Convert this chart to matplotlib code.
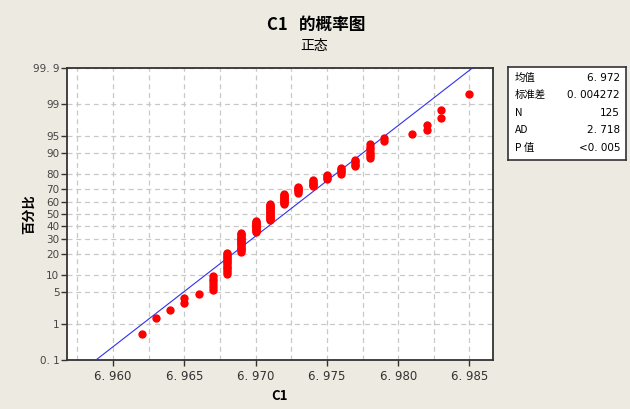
from statistics import NormalDist
import numpy as np
import matplotlib
matplotlib.use('Agg')
import matplotlib.pyplot as plt

plt.rcParams['font.family'] = ['Noto Sans CJK SC', 'DejaVu Sans']

# values of C1 and how many times each one occurs
c1_values = [6.962, 6.963, 6.964, 6.965, 6.966, 6.967, 6.968, 6.969, 6.970,
             6.971, 6.972, 6.973, 6.974, 6.975, 6.976, 6.977, 6.978, 6.979,
             6.981, 6.982, 6.983, 6.985]
c1_counts = [1, 1, 1, 2, 1, 6, 14, 17, 13, 17, 11, 6, 6, 4, 5, 5, 7, 2,
             1, 2, 2, 1]

stat_names = ['均值', '标准差', 'N', 'AD', 'P 值']
stat_values = ['6. 972', '0. 004272', '125', '2. 718', '<0. 005']
mean = 6.972
sd = 0.004272

pct_ticks = [0.1, 1, 5, 10, 20, 30, 40, 50, 60, 70, 80, 90, 95, 99, 99.9]
pct_labels = ['0. 1', '1', '5', '10', '20', '30', '40', '50', '60', '70',
              '80', '90', '95', '99', '99. 9']
x_ticks = [6.960, 6.965, 6.970, 6.975, 6.980, 6.985]
x_labels = ['6. 960', '6. 965', '6. 970', '6. 975', '6. 980', '6. 985']

nd = NormalDist()

# median ranks, like minitab does
x = np.repeat(c1_values, c1_counts)
n = len(x)
ranks = np.arange(1, n + 1)
z = np.array([nd.inv_cdf((r - 0.3) / (n + 0.4)) for r in ranks])

bg = '#EDEAE1'
fig = plt.figure(figsize=(6.3, 4.09), dpi=100, facecolor=bg)
ax = fig.add_axes([67 / 630, 1 - 360 / 409, 426 / 630, 292 / 409])

zlo = nd.inv_cdf(0.001)
zhi = nd.inv_cdf(0.999)

# fitted line
zl = np.array([zlo, zhi])
ax.plot(mean + zl * sd, zl, color='#3030F0', lw=0.8, zorder=3)

ax.plot(x, z, 'o', color='#FF0000', ms=6, mec='none', zorder=4)

ax.set_xlim(6.95677, 6.98665)
ax.set_ylim(zlo, zhi)

ax.set_yticks([nd.inv_cdf(p / 100) for p in pct_ticks])
ax.set_yticklabels(pct_labels, family='DejaVu Sans')
ax.set_xticks(x_ticks)
ax.set_xticklabels(x_labels, family='DejaVu Sans')

# grid lines every 0.0025 on x, at each tick on y
for gx in np.arange(6.9575, 6.98651, 0.0025):
    ax.axvline(gx, color='#C8C8C8', lw=0.9, ls=(0, (4, 3)), zorder=1)
for gy in ax.get_yticks():
    ax.axhline(gy, color='#C8C8C8', lw=0.9, ls=(0, (4, 3)), zorder=1)

ax.tick_params(axis='x', direction='out', length=4, width=1,
               labelsize=8.5, labelcolor='#333333', color='#333333', pad=3)
ax.tick_params(axis='y', direction='out', length=4, width=1,
               labelsize=7.5, labelcolor='#444444', color='#333333', pad=1.5)
for s in ax.spines.values():
    s.set_color('#333333')
    s.set_linewidth(1.3)

ax.set_xlabel('C1', fontsize=9.5, fontweight='bold')
ax.xaxis.set_label_coords(0.5, -29 / 292)
ax.set_ylabel('百分比', fontsize=9.5, fontweight='bold')
ax.yaxis.set_label_coords(-31 / 426, 0.5)

fig.text(316 / 630, 1 - 25 / 409, 'C1   的概率图', ha='center', va='center',
         fontsize=12, fontweight='bold')
fig.text(314 / 630, 1 - 46 / 409, '正态', ha='center', va='center', fontsize=10)

# stats box
box = fig.add_axes([508 / 630, 1 - 160 / 409, 118 / 630, 93 / 409])
box.set_xticks([])
box.set_yticks([])
box.set_facecolor('white')
for s in box.spines.values():
    s.set_color('#333333')
    s.set_linewidth(1.2)
for i, (nm, v) in enumerate(zip(stat_names, stat_values)):
    yy = 1 - (i + 0.6) / 5.3
    box.text(0.06, yy, nm, transform=box.transAxes, ha='left', va='center',
             fontsize=7.5)
    box.text(0.95, yy, v, transform=box.transAxes, ha='right', va='center',
             fontsize=7.5, family='DejaVu Sans')

fig.savefig('out.png', dpi=100, facecolor=bg)
